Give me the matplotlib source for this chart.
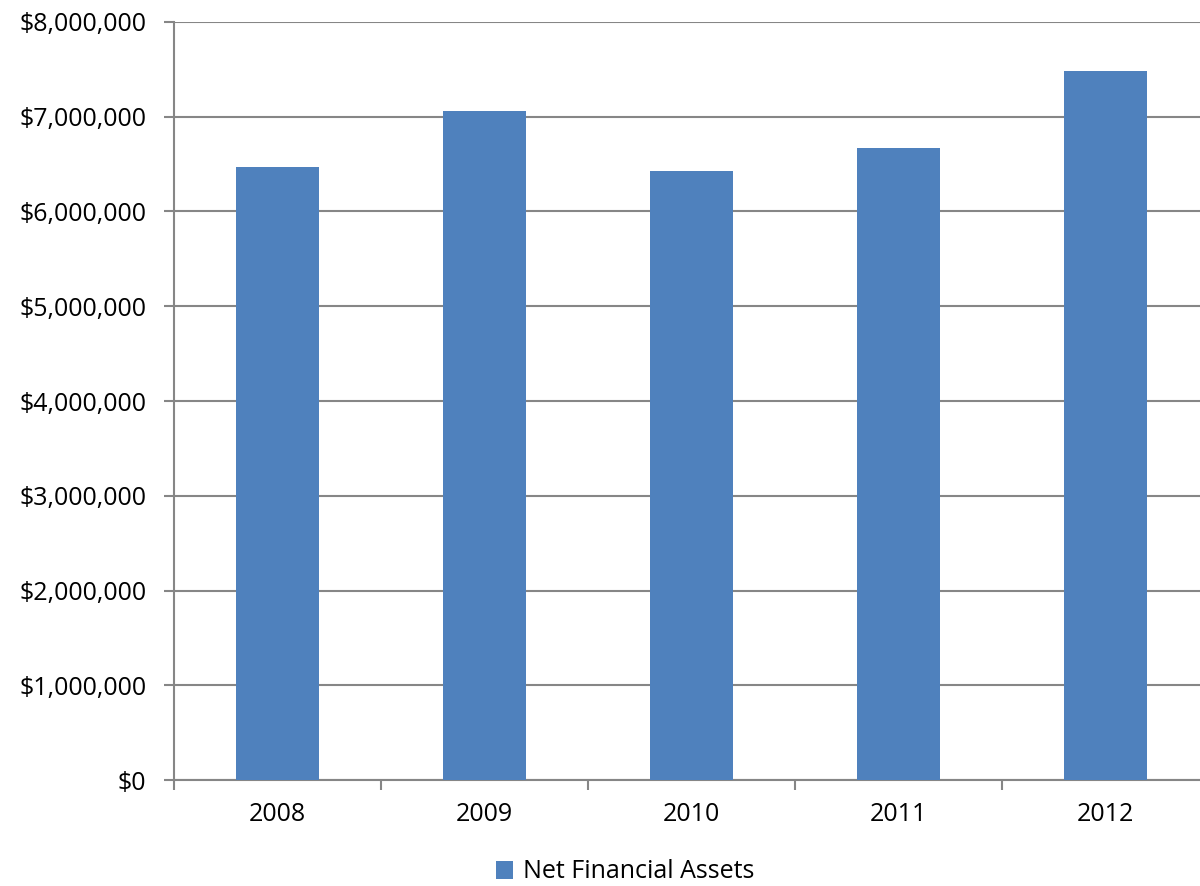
import numpy as np
import matplotlib.pyplot as plt
from matplotlib.ticker import FuncFormatter, FixedLocator

plt.rcParams['font.family'] = ['Open Sans', 'DejaVu Sans']

# Datos
anios = ['2008', '2009', '2010', '2011', '2012']
activos = [6470000, 7060000, 6430000, 6670000, 7480000]
serie = 'Net Financial Assets'

color_barra = '#4F81BD'
gris = '#868686'

fig = plt.figure(figsize=(12, 8.86), dpi=100)
ax = fig.add_axes([0.145, 0.1196, 0.8625, 0.8556])

x = np.arange(len(anios))
ax.bar(x, activos, width=0.4, color=color_barra, label=serie, zorder=3)

ax.set_xlim(-0.5, len(anios) - 0.5)
ax.set_ylim(0, 8000000)
ax.set_yticks(np.arange(0, 8000001, 1000000))
ax.yaxis.set_major_formatter(FuncFormatter(lambda v, p: '${:,.0f}'.format(v)))

ax.set_xticks(x)
ax.set_xticklabels(anios)
ax.xaxis.set_minor_locator(FixedLocator(np.arange(-0.5, len(anios), 1.0)))

ax.grid(axis='y', color=gris, linewidth=1.5, zorder=0)
for s in ['top', 'right']:
    ax.spines[s].set_visible(False)
for s in ['left', 'bottom']:
    ax.spines[s].set_color(gris)
    ax.spines[s].set_linewidth(1.5)

ax.tick_params(axis='y', length=7, width=1.5, color=gris, labelsize=18, pad=13)
ax.tick_params(axis='x', which='major', length=0, labelsize=18, pad=16)
ax.tick_params(axis='x', which='minor', length=7, width=1.5, color=gris)

fig.legend(loc='center', bbox_to_anchor=(625 / 1200, 1 - 872 / 886), frameon=False,
           fontsize=18, handlelength=0.7, handleheight=0.7, handletextpad=0.4,
           borderpad=0.1)

fig.savefig('out.png', dpi=100)
